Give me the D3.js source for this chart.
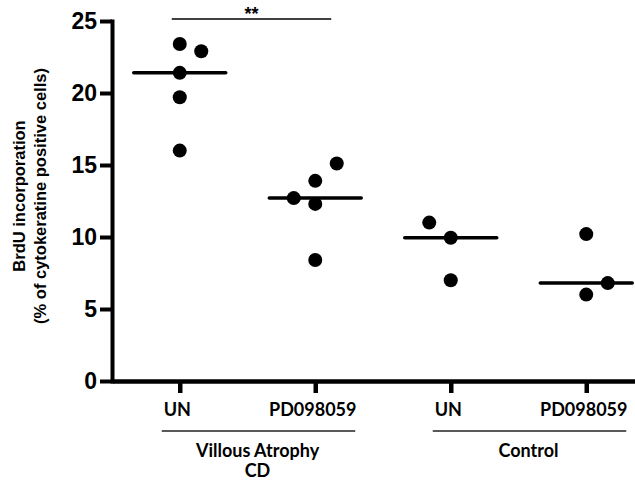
<!DOCTYPE html>
<html>
<head>
	<title>BrdU incorporation</title>
	<script type = "text/javascript" src = "https://cdnjs.cloudflare.com/ajax/libs/d3/7.8.5/d3.min.js"></script>
	<style>
		body { margin: 0; background: white; }
	</style>
</head>
<body>
	<svg id = "chart" width = 635 height = 482></svg>
	<script type="text/javascript">
		var svg = d3.select("#chart");

		// data
		var categories = ["UN", "PD098059", "UN", "PD098059"];
		var groups = [["Villous Atrophy", "CD"], ["Control"]];
		var groupMembers = [[0, 1], [2, 3]];

		var vaUN = [23.4, 22.9, 21.4, 19.7, 16.0];
		var vaPD = [15.1, 13.9, 12.7, 12.3, 8.4];
		var ctlUN = [11.0, 9.95, 7.0];
		var ctlPD = [10.2, 6.8, 6.0];
		var series = [vaUN, vaPD, ctlUN, ctlPD];

		// scatter column of each dot (prism style spreading)
		var columns = [[0, 1, 0, 0, 0], [1, 0, -1, 0, 0], [-1, 0, 0], [0, 1, 0]];

		var yTicks = [0, 5, 10, 15, 20, 25];
		var significance = {from: 0, to: 1, label: "**"};

		var y = d3.scaleLinear().domain([0, 25]).range([381, 21]);
		var x = d3.scalePoint().domain(d3.range(categories.length)).range([112, 654]).padding(0.5);
		var colStep = 21.5;

		// y axis
		var yAxis = svg.append("g")
			.attr("transform", "translate(112,0)")
			.call(d3.axisLeft(y).tickValues(yTicks).tickSize(12).tickSizeOuter(0).tickPadding(3));
		yAxis.select(".domain").attr("stroke-width", 4).attr("stroke-linecap", "square");
		yAxis.selectAll(".tick line").attr("stroke-width", 4);
		yAxis.selectAll(".tick text")
			.attr("font-family", "Liberation Sans, Arial, sans-serif")
			.attr("font-weight", "bold")
			.attr("font-size", 23)
			.attr("fill", "black");

		// x axis
		var xAxis = svg.append("g")
			.attr("transform", "translate(0,381)")
			.call(d3.axisBottom(x).tickSize(12).tickSizeOuter(0).tickPadding(10).tickFormat(function (i) { return categories[i]; }));
		xAxis.select(".domain").attr("stroke-width", 4.5);
		xAxis.selectAll(".tick line").attr("stroke-width", 4.5);
		xAxis.selectAll(".tick text")
			.attr("font-family", "Lato, Open Sans, sans-serif")
			.attr("font-weight", "bold")
			.attr("font-size", 18)
			.attr("dx", -3)
			.attr("fill", "black");

		// group brackets under the labels
		groups.forEach(function (name, g) {
			var a = x(groupMembers[g][0]);
			var b = x(groupMembers[g][1]);
			svg.append("line")
				.attr("x1", a - 18)
				.attr("x2", b + 40)
				.attr("y1", 431)
				.attr("y2", 431)
				.attr("stroke", "#222")
				.attr("stroke-width", 1.3);
			name.forEach(function (line, k) {
				svg.append("text")
					.attr("x", (a + b) / 2 + 10)
					.attr("y", 457 + k * 20)
					.attr("text-anchor", "middle")
					.attr("font-family", "Lato, Open Sans, sans-serif")
					.attr("font-weight", "bold")
					.attr("font-size", 18)
					.text(line);
			});
		});

		// y axis title
		var titleLines = ["BrdU incorporation", "(% of cytokeratine positive cells)"];
		titleLines.forEach(function (t, k) {
			svg.append("text")
				.attr("transform", "translate(" + (25 + k * 21) + ",196) rotate(-90)")
				.attr("text-anchor", "middle")
				.attr("font-family", "Liberation Sans, Arial, sans-serif")
				.attr("font-weight", "bold")
				.attr("font-size", 16.5)
				.text(t);
		});

		// dots and median lines
		series.forEach(function (vals, i) {
			var cx = x(i);
			var med = d3.median(vals);
			svg.append("line")
				.attr("x1", cx - 46)
				.attr("x2", cx + 46)
				.attr("y1", y(med))
				.attr("y2", y(med))
				.attr("stroke", "black")
				.attr("stroke-width", 3.5)
				.attr("stroke-linecap", "round");
			vals.forEach(function (v, j) {
				svg.append("circle")
					.attr("cx", cx + columns[i][j] * colStep)
					.attr("cy", y(v))
					.attr("r", 7)
					.attr("fill", "black");
			});
		});

		// significance bar
		var sx1 = x(significance.from) - 8;
		var sx2 = x(significance.to) + 16;
		svg.append("line")
			.attr("x1", sx1)
			.attr("x2", sx2)
			.attr("y1", 19)
			.attr("y2", 19)
			.attr("stroke", "black")
			.attr("stroke-width", 1.5);
		svg.append("text")
			.attr("x", (sx1 + sx2) / 2)
			.attr("y", 20)
			.attr("text-anchor", "middle")
			.attr("font-family", "Liberation Sans, Arial, sans-serif")
			.attr("font-weight", "bold")
			.attr("font-size", 18)
			.text(significance.label);
	</script>
</body>
</html>
